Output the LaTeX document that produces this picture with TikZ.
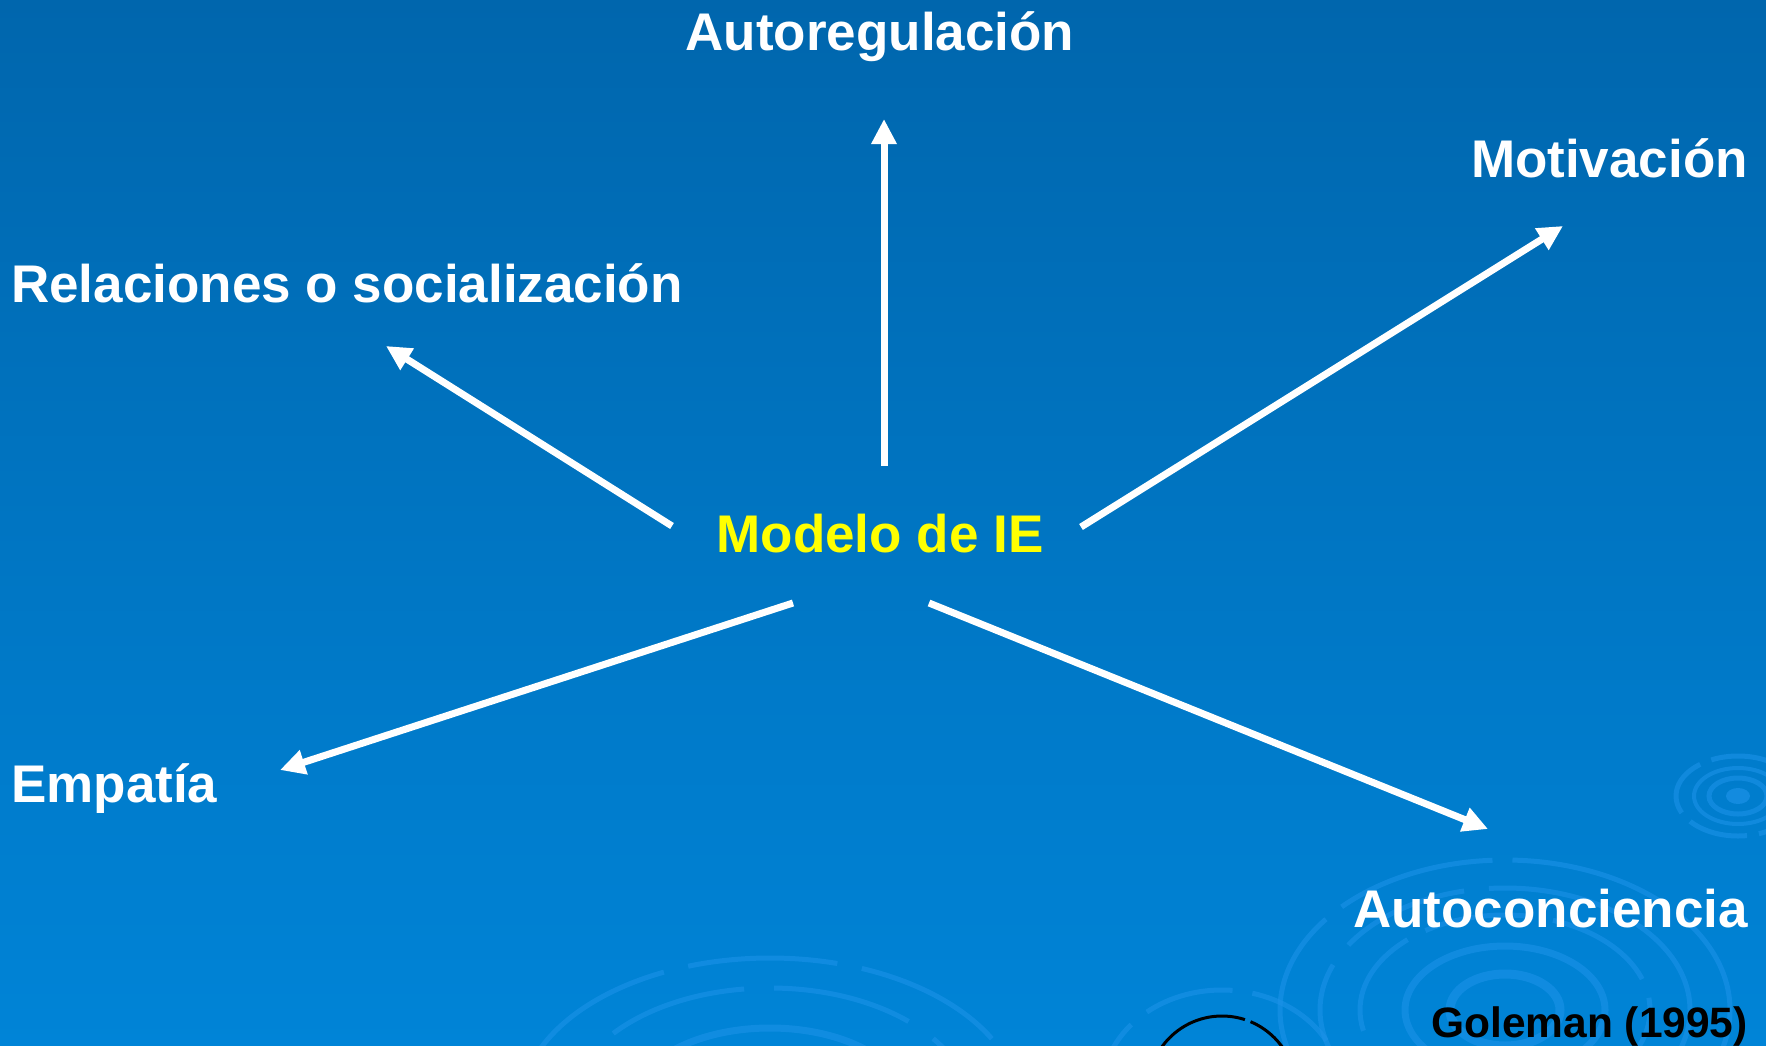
\documentclass[tikz,border=0pt]{standalone}
\usepackage{fontspec}
\setmainfont{Liberation Sans}
\usetikzlibrary{arrows.meta}
\definecolor{bgTop}{HTML}{0066AD}
\definecolor{bgMid}{HTML}{006BB5}
\definecolor{bgBot}{HTML}{0084D7}
\definecolor{rippleC}{HTML}{1C92E8}
\definecolor{ieYellow}{HTML}{FFFF00}
\tikzset{
  lbl/.style={text=white, font=\fontsize{53}{60}\selectfont\bfseries, inner sep=0pt},
  centro/.style={lbl, text=ieYellow},
  refer/.style={text=black, font=\fontsize{42.5}{48}\selectfont\bfseries, inner sep=0pt},
  flecha/.style={draw=white, line width=7pt, -{Triangle[length=25pt,width=24pt]}},
  ripple/.style={draw=rippleC, opacity=0.6, line width=5pt},
}

\begin{document}
\begin{tikzpicture}[x=1pt,y=-1pt]
\useasboundingbox (0,0) rectangle (1766,1046);
% fondo
\shade[top color=bgTop, middle color=bgMid, bottom color=bgBot] (0,0) rectangle (1766,1046);
\begin{scope}
\clip (0,0) rectangle (1766,1046);
% ondas
\draw[ripple, dash pattern=on 160pt off 20pt] (1505,1010) ellipse [x radius=225, y radius=150];
\draw[ripple, dash pattern=on 130pt off 25pt, dash phase=60pt] (1505,1010) ellipse [x radius=185, y radius=122];
\draw[ripple, dash pattern=on 110pt off 20pt, dash phase=30pt] (1505,1010) ellipse [x radius=145, y radius=95];
\draw[ripple, line width=7pt] (1505,1010) ellipse [x radius=100, y radius=64];
\draw[ripple, line width=9pt] (1505,1010) ellipse [x radius=55, y radius=36];
\draw[ripple, dash pattern=on 150pt off 25pt] (770,1108) ellipse [x radius=250, y radius=150];
\draw[ripple, dash pattern=on 140pt off 30pt, dash phase=80pt] (770,1108) ellipse [x radius=200, y radius=120];
\draw[ripple, line width=7pt] (770,1108) ellipse [x radius=140, y radius=80];
\draw[ripple, dash pattern=on 90pt off 20pt] (1222,1090) ellipse [x radius=120, y radius=100];
\draw[black, line width=3pt, dash pattern=on 120pt off 6pt] (1222,1090) ellipse [x radius=74, y radius=74];
\draw[ripple, dash pattern=on 60pt off 12pt] (1738,796) ellipse [x radius=62, y radius=40];
\draw[ripple, line width=4pt] (1738,796) ellipse [x radius=44, y radius=28];
\draw[ripple, line width=5pt] (1738,796) ellipse [x radius=29, y radius=18];
\fill[rippleC, opacity=0.7] (1738,796) ellipse [x radius=12, y radius=8];
\end{scope}

% textos
\node[centro, anchor=base] (modelo) at (880,552) {Modelo de IE};
\node[lbl, anchor=base] (autoreg) at (880,51) {Autoregulación};
\node[lbl, anchor=base east] (motiv) at (1748,177) {Motivación};
\node[lbl, anchor=base west] (relac) at (11,302) {Relaciones o socialización};
\node[lbl, anchor=base west] (empat) at (11,802) {Empatía};
\node[lbl, anchor=base east] (autocon) at (1748,927) {Autoconciencia};
\node[refer, anchor=base east] (goleman) at (1748,1037) {Goleman (1995)};

% extremos de las flechas
\coordinate (autoreg-s) at (884,466);
\coordinate (autoreg-e) at (884,119);
\coordinate (motiv-s) at (1081,527);
\coordinate (motiv-e) at (1563,226);
\coordinate (relac-s) at (672,526);
\coordinate (relac-e) at (386,346);
\coordinate (empat-s) at (793,603);
\coordinate (empat-e) at (280,770);
\coordinate (autocon-s) at (929,603);
\coordinate (autocon-e) at (1488,829);

\draw[flecha] (autoreg-s) -- (autoreg-e);
\draw[flecha] (motiv-s) -- (motiv-e);
\draw[flecha] (relac-s) -- (relac-e);
\draw[flecha] (empat-s) -- (empat-e);
\draw[flecha] (autocon-s) -- (autocon-e);
\end{tikzpicture}
\end{document}
